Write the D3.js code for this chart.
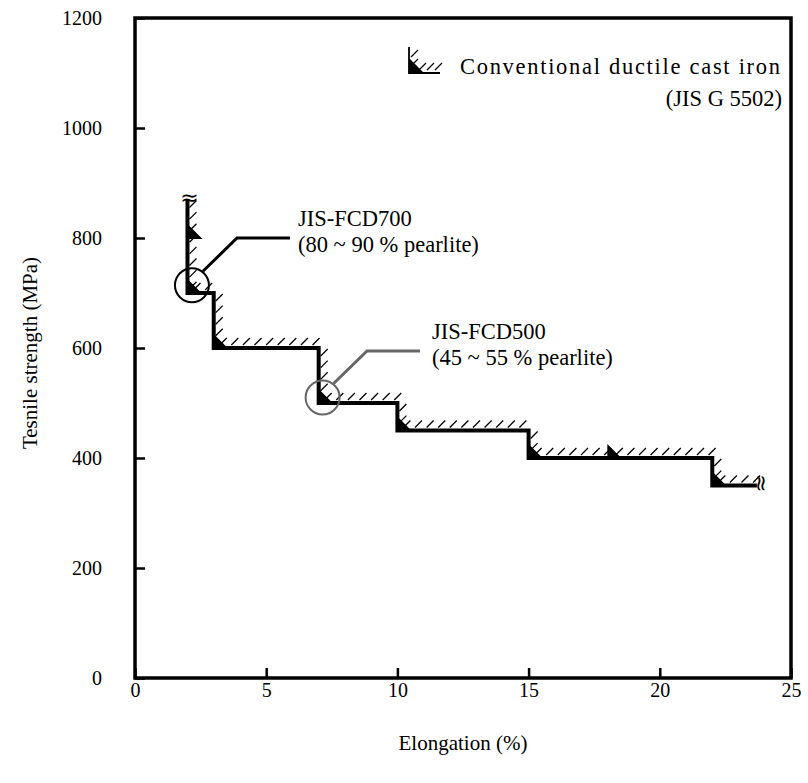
<!DOCTYPE html>
<html>
<head>
<meta charset="utf-8">
<script src="https://cdn.jsdelivr.net/npm/d3@7"></script>
<style>
  html, body { margin: 0; padding: 0; background: #fff; }
</style>
</head>
<body>
<svg id="chart" width="808" height="783"></svg>
<script>
// Minimum tensile strength / elongation steps of conventional ductile cast iron (JIS G 5502)
const stepElongation = [2, 3, 7, 10, 15, 22];          // %
const stepStrength   = [700, 600, 500, 450, 400, 350]; // MPa
const stepTopStrength = 870;    // upper end of the first vertical (broken)
const stepEndElongation = 23.7; // right end of the last horizontal (broken)

// Grade markers (filled triangles)
const gradeElongation = [2, 2, 3, 7, 10, 15, 18, 22];
const gradeStrength   = [800, 700, 600, 500, 450, 400, 400, 350];

// Highlighted grades
const highlightNames = ["JIS-FCD700", "JIS-FCD500"];
const highlightNotes = ["(80 ~ 90 % pearlite)", "(45 ~ 55 % pearlite)"];
const highlightElongation = [2.17, 7.15];
const highlightStrength = [714, 510];
const highlightColors = ["#000", "#666"];

const xTicks = [0, 5, 10, 15, 20, 25];
const yTicks = [0, 200, 400, 600, 800, 1000, 1200];

const SERIF = "Liberation Serif";

const svg = d3.select("#chart");
const margin = { left: 135, right: 17, top: 18, bottom: 105 };
const W = 808, H = 783;

const x = d3.scaleLinear().domain([0, 25]).range([margin.left, W - margin.right]);
const y = d3.scaleLinear().domain([0, 1200]).range([H - margin.bottom, margin.top]);

const tickFont = 20;
const textFont = 22.5;

function styleText(sel, size) {
  return sel.attr("font-family", SERIF).style("font-family", SERIF)
    .attr("font-size", size).style("font-size", size + "px").attr("fill", "#000");
}

// ---- axes ----
const gx = svg.append("g").attr("transform", `translate(0,${y(0)})`);
gx.call(d3.axisBottom(x).tickValues(d3.range(0, 26, 1)).tickSizeInner(-5).tickSizeOuter(0).tickFormat(""));
gx.call(d3.axisBottom(x).tickValues(xTicks).tickSizeInner(-10).tickSizeOuter(0).tickPadding(5).tickFormat(d3.format("d")));
gx.attr("font-family", SERIF);
gx.selectAll(".domain").remove();
gx.selectAll("line").attr("stroke", "#000").attr("stroke-width", 2.5);
styleText(gx.selectAll("text"), tickFont);

const gy = svg.append("g").attr("transform", `translate(${x(0)},0)`);
gy.call(d3.axisLeft(y).tickValues(d3.range(0, 1201, 100)).tickSizeInner(-5).tickSizeOuter(0).tickFormat(""));
gy.call(d3.axisLeft(y).tickValues(yTicks).tickSizeInner(-10).tickSizeOuter(0).tickPadding(33).tickFormat(d3.format("d")));
gy.attr("font-family", SERIF);
gy.selectAll(".domain").remove();
gy.selectAll("line").attr("stroke", "#000").attr("stroke-width", 2.5);
styleText(gy.selectAll("text"), tickFont);

// frame
svg.append("rect")
  .attr("x", x(0)).attr("y", y(1200))
  .attr("width", x(25) - x(0)).attr("height", y(0) - y(1200))
  .attr("fill", "none").attr("stroke", "#000").attr("stroke-width", 3.5);

// axis titles
styleText(svg.append("text")
  .attr("x", (x(0) + x(25)) / 2).attr("y", 750)
  .attr("text-anchor", "middle")
  .text("Elongation (%)"), 21);
styleText(svg.append("text")
  .attr("transform", `translate(37,${(y(0) + y(1200)) / 2 + 5}) rotate(-90)`)
  .attr("text-anchor", "middle")
  .text("Tesnile strength (MPa)"), 21);

// ---- step boundary ----
const stepPts = [[stepElongation[0], stepTopStrength]];
stepElongation.forEach((e, i) => {
  stepPts.push([e, stepStrength[i]]);
  const next = i + 1 < stepElongation.length ? stepElongation[i + 1] : stepEndElongation;
  stepPts.push([next, stepStrength[i]]);
});

// hatch marks on the allowed side (above / right)
const hatch = [];
const spacing = 11.6, len = 7;
for (let i = 0; i < stepPts.length - 1; i++) {
  const [e0, s0] = stepPts[i], [e1, s1] = stepPts[i + 1];
  const px0 = x(e0), py0 = y(s0), px1 = x(e1), py1 = y(s1);
  if (Math.abs(py0 - py1) < 0.5) {
    for (let p = px0 + 6; p <= px1 - 2; p += spacing) {
      hatch.push([p, py0 - 3, p + len, py0 - 3 - len]);
    }
  } else {
    for (let p = py0 + 8; p <= py1 - 4; p += spacing) {
      hatch.push([px0 + 2, p, px0 + 2 + len, p - len]);
    }
  }
}
svg.append("g").selectAll("line").data(hatch).join("line")
  .attr("x1", d => d[0]).attr("y1", d => d[1])
  .attr("x2", d => d[2]).attr("y2", d => d[3])
  .attr("stroke", "#000").attr("stroke-width", 1.3);

svg.append("path")
  .attr("d", d3.line().x(d => x(d[0])).y(d => y(d[1]))(stepPts))
  .attr("fill", "none").attr("stroke", "#000").attr("stroke-width", 4)
  .attr("stroke-linejoin", "miter").attr("stroke-linecap", "butt");

// grade markers
svg.append("g").selectAll("path").data(gradeElongation.map((e, i) => [e, gradeStrength[i]])).join("path")
  .attr("d", d => {
    const px = x(d[0]), py = y(d[1]);
    return `M${px},${py - 14}L${px},${py + 1}L${px + 15},${py + 1}Z`;
  })
  .attr("fill", "#000");

// break symbols at both open ends
svg.append("text")
  .attr("x", x(stepElongation[0]) + 2).attr("y", y(stepTopStrength) + 5)
  .attr("text-anchor", "middle")
  .attr("font-family", "DejaVu Sans").attr("font-size", 22)
  .text("≈");
svg.append("text")
  .attr("transform", `translate(${x(stepEndElongation) + 5},${y(stepStrength[stepStrength.length - 1]) - 2}) rotate(90)`)
  .attr("text-anchor", "middle").attr("dy", "0.35em")
  .attr("font-family", "DejaVu Sans").attr("font-size", 22)
  .text("≈");

// ---- highlighted grades ----
const leaderBend = [[237, 238], [367, 351]];
const leaderEnd = [290, 420];
const labelX = [298, 432];
highlightNames.forEach((name, i) => {
  const cx = x(highlightElongation[i]), cy = y(highlightStrength[i]);
  const c = highlightColors[i];
  svg.append("circle").attr("cx", cx).attr("cy", cy).attr("r", 17)
    .attr("fill", "none").attr("stroke", c).attr("stroke-width", 2);
  const [bx, by] = leaderBend[i];
  svg.append("path")
    .attr("d", `M${cx + 11},${cy - 14}L${bx},${by}L${leaderEnd[i]},${by}`)
    .attr("fill", "none").attr("stroke", c).attr("stroke-width", 3);
  styleText(svg.append("text").attr("x", labelX[i]).attr("y", by - 12).text(name), textFont);
  styleText(svg.append("text").attr("x", labelX[i]).attr("y", by + 14).text(highlightNotes[i]), textFont);
});

// ---- legend ----
const lg = svg.append("g").attr("transform", "translate(409,73)");
lg.append("path").attr("d", "M0,-26L0,0L31,0").attr("fill", "none").attr("stroke", "#000").attr("stroke-width", 1.8);
lg.append("path").attr("d", "M0,-15L0,0L15,0Z").attr("fill", "#000");
[[2, -16], [2, -7], [10, -3], [18, -3], [26, -3]].forEach(([hx, hy]) => {
  lg.append("line").attr("x1", hx).attr("y1", hy).attr("x2", hx + 7).attr("y2", hy - 7)
    .attr("stroke", "#000").attr("stroke-width", 1.2);
});
styleText(svg.append("text").attr("x", 460).attr("y", 74)
  .attr("textLength", 320).attr("lengthAdjust", "spacing")
  .text("Conventional ductile cast iron"), textFont);
styleText(svg.append("text").attr("x", 782).attr("y", 106).attr("text-anchor", "end").text("(JIS G 5502)"), textFont);
</script>
</body>
</html>
